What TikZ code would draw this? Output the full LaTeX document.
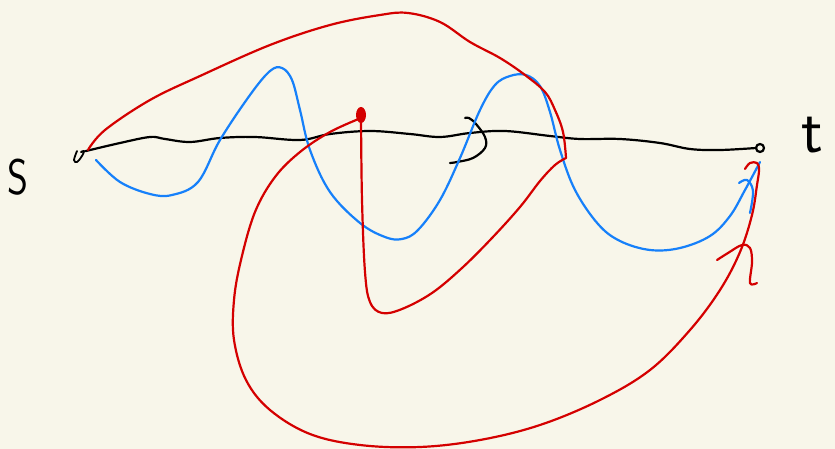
\documentclass[tikz,border=0pt]{standalone}
\usetikzlibrary{calc}
\definecolor{paper}{RGB}{248,246,234}
\definecolor{inkblue}{RGB}{22,128,250}
\definecolor{inkred}{RGB}{212,0,0}
\tikzset{
  ink/.style={line width=2.2pt, line cap=round, line join=round},
  blk/.style={ink, black},
  blu/.style={ink, inkblue},
  rd/.style={ink, inkred},
  lbl/.style={inner sep=0pt, font=\sffamily\fontsize{50}{50}\selectfont}
}
\begin{document}
\begin{tikzpicture}[x=1pt,y=-1pt]
\fill[paper] (0,0) rectangle (835,449);
\useasboundingbox (0,0) rectangle (835,449);

% labels
\node[lbl, xscale=0.8] (s) at (18,177) {S};
\node[lbl, font=\sffamily\fontsize{64}{64}\selectfont, anchor=base west] (t) at (801,153) {t};

% black path
\draw[blk] plot[smooth, tension=0.6] coordinates {
 (86,151) (120,143) (150,137) (165,139) (190,142) (220,138) (255,137)
 (300,140) (330,134) (370,131) (410,134) (440,137) (470,133) (505,131)
 (550,136) (580,139) (620,139) (660,143) (690,149) (720,150) (756,148)};
\draw[blk] (760,148) circle[x radius=4, y radius=4];
% v letter
\draw[blk, line width=1.8pt] plot[smooth, tension=0.6] coordinates {
 (77,151) (74,160) (77,162) (82,156) (84,151) (81,152) (86,151)};
% black spiral
\draw[blk] plot[smooth, tension=0.6] coordinates {
 (465,118) (469,118) (476,124) (485,137) (485,148) (473,158) (457,162) (450,163)};

% blue path
\draw[blu] plot[smooth, tension=0.6] coordinates {
 (96,160) (120,182) (150,194) (172,195) (198,182) (220,140) (250,95)
 (270,71) (282,68) (292,80) (300,110) (310,150) (330,192) (360,223)
 (385,237) (402,239) (418,230) (440,200) (460,158) (480,110) (495,85)
 (510,76) (526,75) (540,86) (550,112) (560,150) (575,190) (598,224)
 (620,241) (650,250) (680,248) (710,236) (730,216) (745,190) (760,162)};
\draw[blu] plot[smooth, tension=0.6] coordinates {
 (739,183) (747,180) (753,191) (750,213)};

% red path 1
\draw[rd] plot[smooth, tension=0.6] coordinates {
 (88,150) (105,130) (150,100) (200,76) (270,45) (330,25) (380,15)
 (408,13) (440,22) (470,42) (500,58) (525,75) (545,92) (555,110)
 (563,132) (566,158)};
\draw[rd] plot[smooth, tension=0.6] coordinates {
 (566,158) (555,165) (540,181) (520,207) (492,238) (462,268)
 (432,293) (402,309) (382,313) (370,302) (365,272) (362,200) (361,118)};
% red dot
\fill[inkred] (361,115) ellipse[x radius=5, y radius=8];
% red path 2
\draw[rd] plot[smooth, tension=0.6] coordinates {
 (361,118) (330,132) (300,152) (275,177) (255,212) (241,260) (234,300)
 (234,340) (246,380) (270,410) (310,434) (360,445) (420,447) (480,440)
 (540,425) (600,400) (650,370) (690,330) (720,290) (740,252) (752,215)
 (757,185) (759,170) (757,163) (750,163) (745,169)};
% red small hook
\draw[rd] plot[smooth, tension=0.6] coordinates {
 (717,260) (728,253) (742,245) (750,248) (752,262) (750,283) (757,283)};
\end{tikzpicture}
\end{document}
